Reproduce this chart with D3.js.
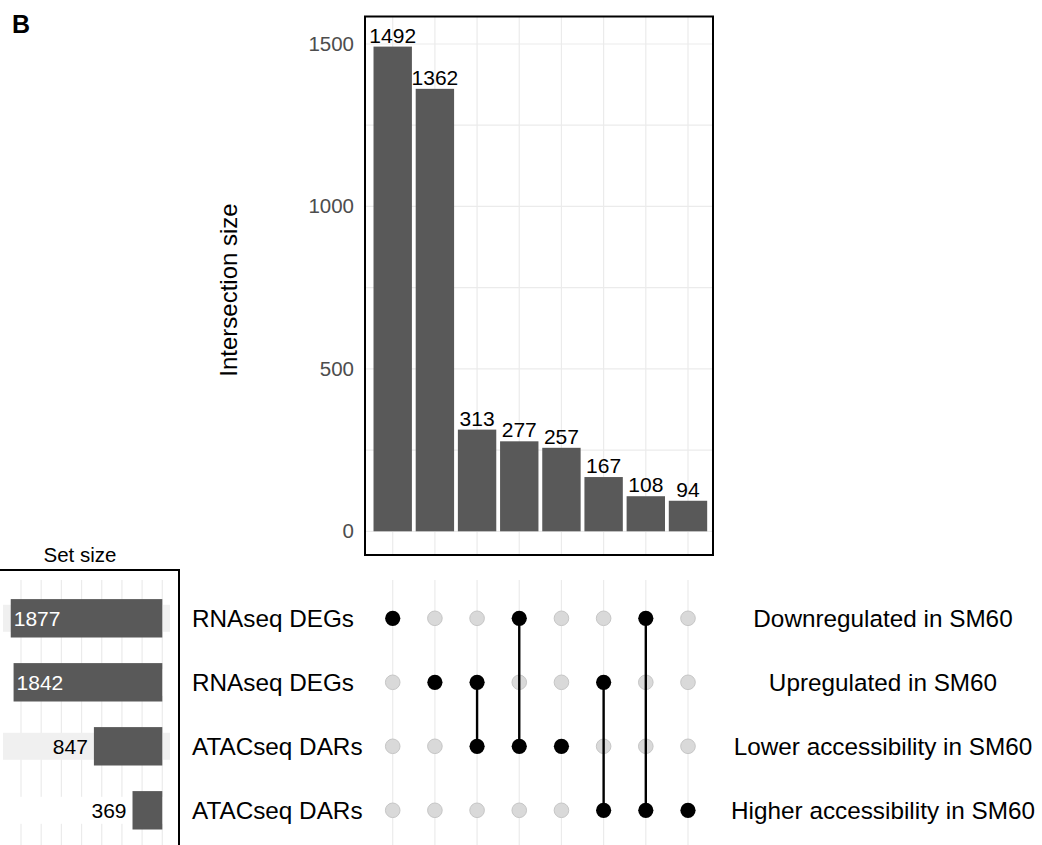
<!DOCTYPE html>
<html>
<head>
<meta charset="utf-8">
<script src="https://cdn.jsdelivr.net/npm/d3@7"></script>
<style>
  html, body { margin: 0; padding: 0; background: #fff; }
  svg { display: block; font-family: "Liberation Sans", Arial, Helvetica, sans-serif; }
</style>
</head>
<body>
<svg id="chart" width="1042" height="845"></svg>
<script>
// ---------------- data ----------------
const setIds = ["down", "up", "lower", "higher"];
const setLeftLabels = ["RNAseq DEGs", "RNAseq DEGs", "ATACseq DARs", "ATACseq DARs"];
const setRightLabels = ["Downregulated in SM60", "Upregulated in SM60", "Lower accessibility in SM60", "Higher accessibility in SM60"];
const setSizes = [1877, 1842, 847, 369];

const intersectionSizes = [1492, 1362, 313, 277, 257, 167, 108, 94];
const intersectionMembers = [
  ["down"], ["up"], ["up", "lower"], ["down", "lower"],
  ["lower"], ["up", "higher"], ["down", "higher"], ["higher"]
];

const yMajorTicks = [0, 500, 1000, 1500];
const yMinorTicks = [250, 750, 1250];
const setSizeGridTicks = [0, 250, 500, 750, 1000, 1250, 1500, 1750];

// ---------------- layout ----------------
const svg = d3.select("#chart");
const FONT_BIG = 24.3;
const FONT_NUM = 21;
const BAR = "#595959";
const GRID = "#ebebeb";

const topBox = { x0: 365, x1: 713, y0: 16.5, y1: 555 };
const xInt = d3.scalePoint()
  .domain(d3.range(intersectionSizes.length))
  .range([367.4, 713.3])
  .padding(0.6);
const step = xInt.step();
const barW = step * 0.91;

const yInt = d3.scaleLinear().domain([0, 1500]).range([531.3, 44]);

const yRow = d3.scalePoint().domain(setIds).range([618.3, 810.3]);
const rowStep = yRow.step();

const xSet = d3.scaleLinear().domain([0, 1750]).range([162.3, 21]);

// ---------------- top panel ----------------
const topG = svg.append("g");
topG.selectAll("line.hgrid")
  .data(yMajorTicks.concat(yMinorTicks))
  .join("line")
  .attr("x1", topBox.x0).attr("x2", topBox.x1)
  .attr("y1", d => yInt(d)).attr("y2", d => yInt(d))
  .attr("stroke", GRID).attr("stroke-width", 1.2);
topG.selectAll("line.vgrid")
  .data(d3.range(intersectionSizes.length))
  .join("line")
  .attr("x1", d => xInt(d)).attr("x2", d => xInt(d))
  .attr("y1", topBox.y0).attr("y2", topBox.y1)
  .attr("stroke", GRID).attr("stroke-width", 1.2);

topG.selectAll("rect.bar")
  .data(intersectionSizes)
  .join("rect")
  .attr("x", (d, i) => xInt(i) - barW / 2)
  .attr("width", barW)
  .attr("y", d => yInt(d))
  .attr("height", d => yInt(0) - yInt(d))
  .attr("fill", BAR);

topG.selectAll("text.barlab")
  .data(intersectionSizes)
  .join("text")
  .attr("x", (d, i) => xInt(i))
  .attr("y", d => yInt(d) - 4)
  .attr("text-anchor", "middle")
  .attr("font-size", FONT_NUM)
  .attr("fill", "#000")
  .text(d => d);

topG.append("rect")
  .attr("x", topBox.x0).attr("y", topBox.y0)
  .attr("width", topBox.x1 - topBox.x0).attr("height", topBox.y1 - topBox.y0)
  .attr("fill", "none").attr("stroke", "#000").attr("stroke-width", 2);

const yAxis = d3.axisLeft(yInt).tickValues(yMajorTicks).tickFormat(d3.format("d"))
  .tickSize(0).tickPadding(11);
const yAx = svg.append("g").attr("transform", `translate(${topBox.x0},0)`).call(yAxis);
yAx.select(".domain").remove();
yAx.selectAll("text")
  .attr("font-size", 20.5)
  .attr("fill", "#4d4d4d")
  .attr("font-family", "Liberation Sans, Arial, sans-serif");

svg.append("text")
  .attr("transform", "translate(237,290) rotate(-90)")
  .attr("text-anchor", "middle")
  .attr("font-size", 24)
  .attr("fill", "#000")
  .text("Intersection size");

svg.append("text")
  .attr("x", 12).attr("y", 33)
  .attr("font-size", 25).attr("font-weight", "bold")
  .attr("fill", "#000")
  .text("B");

// ---------------- set size panel ----------------
const setG = svg.append("g");
setG.selectAll("line.sgrid")
  .data(setSizeGridTicks)
  .join("line")
  .attr("x1", d => xSet(d)).attr("x2", d => xSet(d))
  .attr("y1", 580).attr("y2", 845)
  .attr("stroke", GRID).attr("stroke-width", 1.2);

setG.selectAll("rect.stripe")
  .data(setIds)
  .join("rect")
  .attr("x", 3).attr("width", 167)
  .attr("y", d => yRow(d) - 13.5)
  .attr("height", 27)
  .attr("fill", (d, i) => i % 2 === 0 ? "#f0f0f0" : "#ffffff");

const setBarH = rowStep * 0.6;
setG.selectAll("rect.sbar")
  .data(setSizes)
  .join("rect")
  .attr("x", d => xSet(d))
  .attr("width", d => xSet(0) - xSet(d))
  .attr("y", (d, i) => yRow(setIds[i]) - setBarH / 2)
  .attr("height", setBarH)
  .attr("fill", BAR);

setG.selectAll("text.slab")
  .data(setSizes)
  .join("text")
  .attr("x", d => d > 1500 ? xSet(d) + 3 : xSet(d) - 6)
  .attr("y", (d, i) => yRow(setIds[i]))
  .attr("dy", "0.35em")
  .attr("text-anchor", d => d > 1500 ? "start" : "end")
  .attr("font-size", FONT_NUM)
  .attr("fill", d => d > 1500 ? "#fff" : "#000")
  .text(d => d);

setG.append("path")
  .attr("d", "M0,570 H179 V845")
  .attr("fill", "none").attr("stroke", "#000").attr("stroke-width", 2);

svg.append("text")
  .attr("x", 80).attr("y", 562)
  .attr("text-anchor", "middle")
  .attr("font-size", 20.5)
  .attr("fill", "#000")
  .text("Set size");

// ---------------- matrix ----------------
const mat = svg.append("g");
mat.selectAll("line.mgrid")
  .data(d3.range(intersectionSizes.length))
  .join("line")
  .attr("x1", d => xInt(d)).attr("x2", d => xInt(d))
  .attr("y1", 580).attr("y2", 845)
  .attr("stroke", GRID).attr("stroke-width", 1.2);

const cells = [];
intersectionMembers.forEach((mem, i) => {
  setIds.forEach(s => cells.push({ col: i, set: s, on: mem.includes(s) }));
});

mat.selectAll("circle.off")
  .data(cells.filter(c => !c.on))
  .join("circle")
  .attr("cx", d => xInt(d.col))
  .attr("cy", d => yRow(d.set))
  .attr("r", 7.3)
  .attr("fill", "#d9d9d9")
  .attr("stroke", "#c6c6c6")
  .attr("stroke-width", 1);

mat.selectAll("line.conn")
  .data(intersectionMembers.map((m, i) => ({ col: i, ys: m.map(s => yRow(s)) })).filter(d => d.ys.length > 1))
  .join("line")
  .attr("x1", d => xInt(d.col)).attr("x2", d => xInt(d.col))
  .attr("y1", d => d3.min(d.ys)).attr("y2", d => d3.max(d.ys))
  .attr("stroke", "#000").attr("stroke-width", 2.4);

mat.selectAll("circle.on")
  .data(cells.filter(c => c.on))
  .join("circle")
  .attr("cx", d => xInt(d.col))
  .attr("cy", d => yRow(d.set))
  .attr("r", 7.6)
  .attr("fill", "#000");

svg.selectAll("text.rowL")
  .data(setLeftLabels)
  .join("text")
  .attr("x", 192)
  .attr("y", (d, i) => yRow(setIds[i]))
  .attr("dy", "0.35em")
  .attr("font-size", FONT_BIG)
  .attr("fill", "#000")
  .text(d => d);

svg.selectAll("text.rowR")
  .data(setRightLabels)
  .join("text")
  .attr("x", 883)
  .attr("y", (d, i) => yRow(setIds[i]))
  .attr("dy", "0.35em")
  .attr("text-anchor", "middle")
  .attr("font-size", FONT_BIG)
  .attr("fill", "#000")
  .text(d => d);
</script>
</body>
</html>
